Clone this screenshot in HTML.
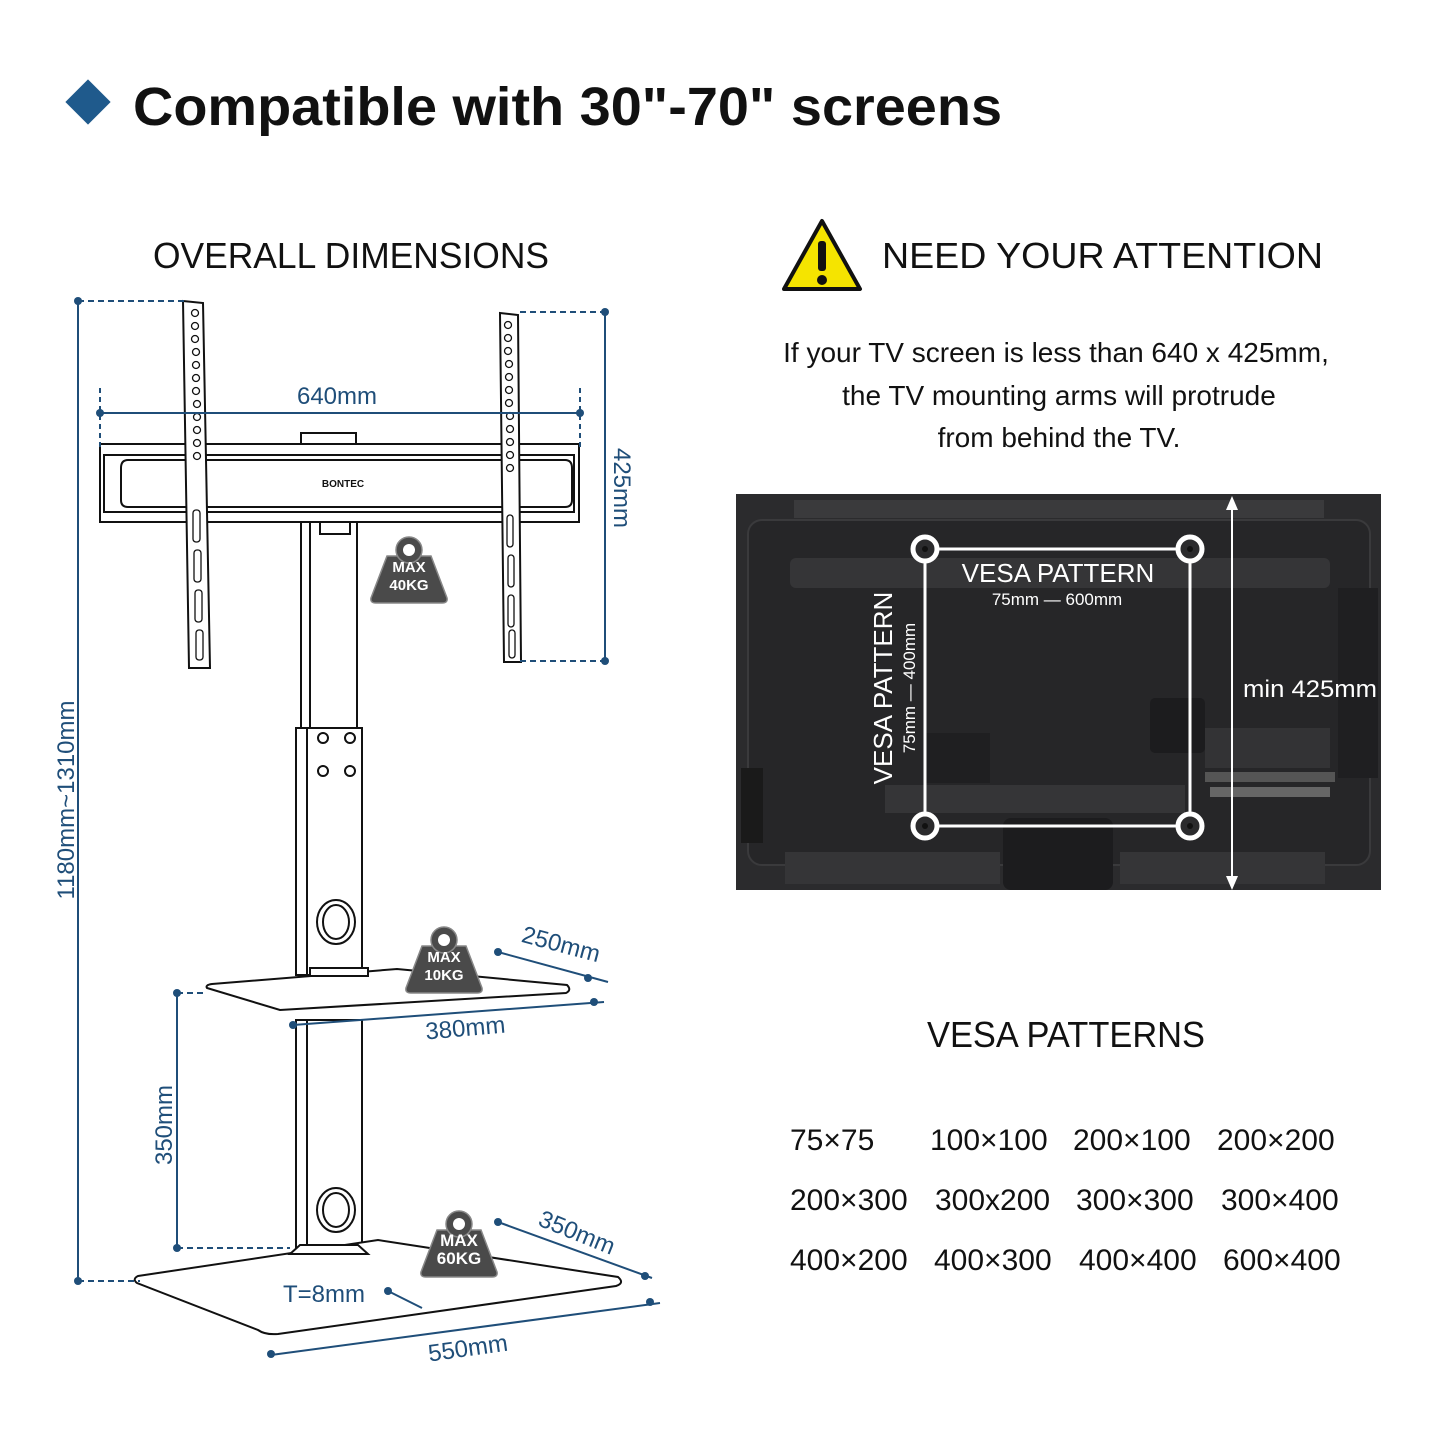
<!DOCTYPE html>
<html><head><meta charset="utf-8"><style>
html,body{margin:0;padding:0;background:#fff;}
svg{display:block;}
text{font-family:"Liberation Sans",sans-serif;}
</style></head><body>
<svg width="1445" height="1445" viewBox="0 0 1445 1445" xmlns="http://www.w3.org/2000/svg">
<defs>
<g id="wt">
<path d="M-22,-14 L22,-14 L38,28 Q39,33 33,33 L-33,33 Q-39,33 -38,28 Z" fill="#4a4a4a" stroke="#888" stroke-width="1.5"/>
<circle cx="0" cy="-20" r="13" fill="#4a4a4a" stroke="#888" stroke-width="1.5"/>
<circle cx="0" cy="-20" r="6" fill="#fff"/>
</g>
</defs>
<!-- Title -->
<rect x="72" y="86" width="32" height="32" fill="#1f5a8c" transform="rotate(45 88 102)"/>
<text x="133" y="125" font-size="54" font-weight="bold" fill="#111" textLength="869" lengthAdjust="spacingAndGlyphs">Compatible with 30"-70" screens</text>

<text x="153" y="268" font-size="36" fill="#111" textLength="396" lengthAdjust="spacingAndGlyphs">OVERALL DIMENSIONS</text>

<!-- warning -->
<path d="M822,221 L860,289 L784,289 Z" fill="#f5e400" stroke="#111" stroke-width="4" stroke-linejoin="round"/>
<rect x="818" y="241" width="8" height="30" rx="3" fill="#111"/>
<circle cx="822" cy="280" r="5" fill="#111"/>
<text x="882" y="268" font-size="36" fill="#111" textLength="441" lengthAdjust="spacingAndGlyphs">NEED YOUR ATTENTION</text>
<g font-size="28" fill="#111" text-anchor="middle">
<text x="1056" y="362">If your TV screen is less than 640 x 425mm,</text>
<text x="1059" y="405">the TV mounting arms will protrude</text>
<text x="1059" y="447">from behind the TV.</text>
</g>

<!-- TV -->
<rect x="736" y="494" width="645" height="396" fill="#2b2b2d"/>
<rect x="748" y="520" width="622" height="345" rx="14" fill="#262628" stroke="#3a3a3c" stroke-width="2"/>
<rect x="794" y="500" width="530" height="18" fill="#3a3a3c"/>
<rect x="790" y="558" width="540" height="30" rx="6" fill="#353537"/>
<rect x="885" y="785" width="300" height="28" fill="#353537"/>
<rect x="785" y="852" width="215" height="32" fill="#353537"/>
<rect x="1120" y="852" width="205" height="32" fill="#353537"/>
<rect x="1003" y="818" width="110" height="72" rx="8" fill="#1c1c1e"/>
<rect x="1338" y="588" width="40" height="190" fill="#1f1f21"/>
<rect x="1205" y="728" width="125" height="40" fill="#333335"/>
<rect x="1150" y="698" width="55" height="55" rx="5" fill="#1c1c1e"/>
<rect x="925" y="733" width="65" height="50" fill="#1f1f21"/>
<rect x="741" y="768" width="22" height="75" fill="#1a1a1a"/>
<rect x="1205" y="772" width="130" height="10" fill="#555"/>
<rect x="1210" y="787" width="120" height="10" fill="#666"/>
<g stroke="#fff" stroke-width="3" fill="none">
<rect x="925" y="549" width="265" height="277"/>
</g>
<g stroke="#fff" stroke-width="5" fill="#2b2b2d">
<circle cx="925" cy="549" r="12"/><circle cx="1190" cy="549" r="12"/>
<circle cx="925" cy="826" r="12"/><circle cx="1190" cy="826" r="12"/>
</g>
<g fill="#111"><circle cx="925" cy="549" r="3"/><circle cx="1190" cy="549" r="3"/><circle cx="925" cy="826" r="3"/><circle cx="1190" cy="826" r="3"/></g>
<text x="1058" y="582" font-size="26" fill="#fff" text-anchor="middle">VESA PATTERN</text>
<text x="1057" y="605" font-size="17" fill="#fff" text-anchor="middle">75mm  —  600mm</text>
<text transform="translate(892,688) rotate(-90)" font-size="26" fill="#fff" text-anchor="middle">VESA PATTERN</text>
<text transform="translate(915,688) rotate(-90)" font-size="17" fill="#fff" text-anchor="middle">75mm  —  400mm</text>
<line x1="1232" y1="505" x2="1232" y2="880" stroke="#fff" stroke-width="2"/>
<path d="M1232,496 L1226,510 L1238,510 Z M1232,890 L1226,876 L1238,876 Z" fill="#fff"/>
<text x="1243" y="697" font-size="24" fill="#fff" textLength="134" lengthAdjust="spacingAndGlyphs">min 425mm</text>

<!-- VESA patterns -->
<text x="927" y="1047" font-size="36" fill="#111" textLength="278" lengthAdjust="spacingAndGlyphs">VESA PATTERNS</text>
<g font-size="30" fill="#111">
<text x="790" y="1150">75×75</text><text x="930" y="1150">100×100</text><text x="1073" y="1150">200×100</text><text x="1217" y="1150">200×200</text>
<text x="790" y="1210">200×300</text><text x="935" y="1210">300x200</text><text x="1076" y="1210">300×300</text><text x="1221" y="1210">300×400</text>
<text x="790" y="1270">400×200</text><text x="934" y="1270">400×300</text><text x="1079" y="1270">400×400</text><text x="1223" y="1270">600×400</text>
</g>

<!-- STAND drawing -->
<g stroke="#111" stroke-width="2" fill="#fff">
<rect x="301" y="522" width="56" height="210"/>
<line x1="310" y1="522" x2="310" y2="728"/>
<rect x="296" y="728" width="66" height="247"/>
<line x1="307" y1="728" x2="307" y2="975"/>
<rect x="296" y="1020" width="66" height="230"/>
<line x1="307" y1="1020" x2="307" y2="1250"/>
<ellipse cx="336" cy="922" rx="19" ry="22"/><ellipse cx="336" cy="922" rx="13" ry="17"/>
<ellipse cx="336" cy="1210" rx="19" ry="22"/><ellipse cx="336" cy="1210" rx="13" ry="17"/>
<circle cx="323" cy="738" r="5"/><circle cx="350" cy="738" r="5"/><circle cx="323" cy="771" r="5"/><circle cx="350" cy="771" r="5"/>
<rect x="100" y="444" width="479" height="78"/>
<rect x="104" y="455" width="470" height="57"/>
<path d="M128,460 L565,460 Q572,460 572,468 L572,500 Q572,507 565,507 L128,507 Q121,507 121,500 L121,468 Q121,460 128,460 Z"/>
<rect x="301" y="433" width="55" height="11"/>
<rect x="320" y="522" width="30" height="12"/>
<path d="M183,301 L203,303 L210,668 L189,668 Z"/>
<path d="M500,313 L518,315 L521,662 L504,662 Z"/>
<path d="M207,988 Q205,985 212,984 L397,969 L567,985 Q572,990 566,993 L280,1010 Z"/>
<rect x="310" y="968" width="58" height="8"/>
<path d="M138,1276 L378,1240 L618,1277 Q625,1283 616,1286 L278,1334 Q265,1335 258,1330 L137,1283 Q132,1279 138,1276 Z"/>
<path d="M290,1254 L300,1245 L358,1245 L368,1254 Z"/>
</g>
<g fill="none" stroke="#111" stroke-width="1.3">
<g id="holes">
<circle cx="195" cy="313" r="3.5"/><circle cx="195" cy="326" r="3.5"/><circle cx="195" cy="339" r="3.5"/><circle cx="196" cy="352" r="3.5"/><circle cx="196" cy="365" r="3.5"/><circle cx="196" cy="378" r="3.5"/><circle cx="196" cy="391" r="3.5"/><circle cx="197" cy="404" r="3.5"/><circle cx="197" cy="417" r="3.5"/><circle cx="197" cy="430" r="3.5"/><circle cx="197" cy="443" r="3.5"/><circle cx="197" cy="456" r="3.5"/>
</g>
<use href="#holes" transform="translate(313,12)"/>
<rect x="193" y="510" width="7" height="32" rx="3"/><rect x="194" y="550" width="7" height="32" rx="3"/><rect x="195" y="590" width="7" height="32" rx="3"/><rect x="196" y="630" width="7" height="30" rx="3"/>
<rect x="507" y="515" width="6" height="32" rx="3"/><rect x="508" y="555" width="6" height="32" rx="3"/><rect x="508" y="595" width="6" height="32" rx="3"/><rect x="509" y="630" width="6" height="28" rx="3"/>
</g>
<text x="343" y="487" font-size="10" font-weight="bold" fill="#111" text-anchor="middle">BONTEC</text>

<g transform="translate(409,570)"><use href="#wt"/><text x="0" y="2" font-size="15" font-weight="bold" fill="#fff" text-anchor="middle">MAX</text><text x="0" y="20" font-size="15" font-weight="bold" fill="#fff" text-anchor="middle">40KG</text></g>
<g transform="translate(444,960)"><use href="#wt"/><text x="0" y="2" font-size="15" font-weight="bold" fill="#fff" text-anchor="middle">MAX</text><text x="0" y="20" font-size="15" font-weight="bold" fill="#fff" text-anchor="middle">10KG</text></g>
<g transform="translate(459,1244)"><use href="#wt"/><text x="0" y="2" font-size="17" font-weight="bold" fill="#fff" text-anchor="middle">MAX</text><text x="0" y="20" font-size="17" font-weight="bold" fill="#fff" text-anchor="middle">60KG</text></g>

<g stroke="#1f4e79" stroke-width="2" fill="none">
<line x1="78" y1="301" x2="78" y2="1281"/>
<line x1="78" y1="301" x2="185" y2="301" stroke-dasharray="6,4"/>
<line x1="78" y1="1281" x2="140" y2="1281" stroke-dasharray="6,4"/>
<line x1="100" y1="413" x2="580" y2="413"/>
<line x1="100" y1="388" x2="100" y2="450" stroke-dasharray="5,4"/>
<line x1="580" y1="388" x2="580" y2="450" stroke-dasharray="5,4"/>
<line x1="605" y1="312" x2="605" y2="661"/>
<line x1="520" y1="312" x2="605" y2="312" stroke-dasharray="6,4"/>
<line x1="520" y1="661" x2="605" y2="661" stroke-dasharray="6,4"/>
<line x1="177" y1="993" x2="177" y2="1248"/>
<line x1="177" y1="993" x2="205" y2="993" stroke-dasharray="6,4"/>
<line x1="177" y1="1248" x2="290" y2="1248" stroke-dasharray="6,4"/>
<line x1="498" y1="952" x2="608" y2="982"/>
<line x1="293" y1="1025" x2="604" y2="1002"/>
<line x1="498" y1="1222" x2="652" y2="1278"/>
<line x1="271" y1="1355" x2="660" y2="1303"/>
<line x1="388" y1="1291" x2="422" y2="1308"/>
</g>
<g fill="#1f4e79">
<circle cx="78" cy="301" r="4"/><circle cx="78" cy="1281" r="4"/>
<circle cx="100" cy="413" r="4"/><circle cx="580" cy="413" r="4"/>
<circle cx="605" cy="312" r="4"/><circle cx="605" cy="661" r="4"/>
<circle cx="177" cy="993" r="4"/><circle cx="177" cy="1248" r="4"/>
<circle cx="498" cy="952" r="4"/><circle cx="588" cy="978" r="4"/>
<circle cx="594" cy="1002" r="4"/><circle cx="293" cy="1025" r="4"/>
<circle cx="498" cy="1222" r="4"/><circle cx="645" cy="1276" r="4"/>
<circle cx="271" cy="1354" r="4"/><circle cx="650" cy="1302" r="4"/>
<circle cx="388" cy="1291" r="4"/>
</g>
<g fill="#1f4e79" font-size="24">
<text x="337" y="404" text-anchor="middle">640mm</text>
<text transform="translate(614,488) rotate(90)" text-anchor="middle">425mm</text>
<text transform="translate(74,800) rotate(-90)" text-anchor="middle">1180mm~1310mm</text>
<text transform="translate(172,1125) rotate(-90)" text-anchor="middle">350mm</text>
<text transform="translate(559,952) rotate(15)" text-anchor="middle">250mm</text>
<text transform="translate(466,1036) rotate(-5)" text-anchor="middle">380mm</text>
<text transform="translate(574,1240) rotate(22)" text-anchor="middle">350mm</text>
<text transform="translate(469,1356) rotate(-8)" text-anchor="middle">550mm</text>
<text x="283" y="1302">T=8mm</text>
</g>
</svg>
</body></html>
